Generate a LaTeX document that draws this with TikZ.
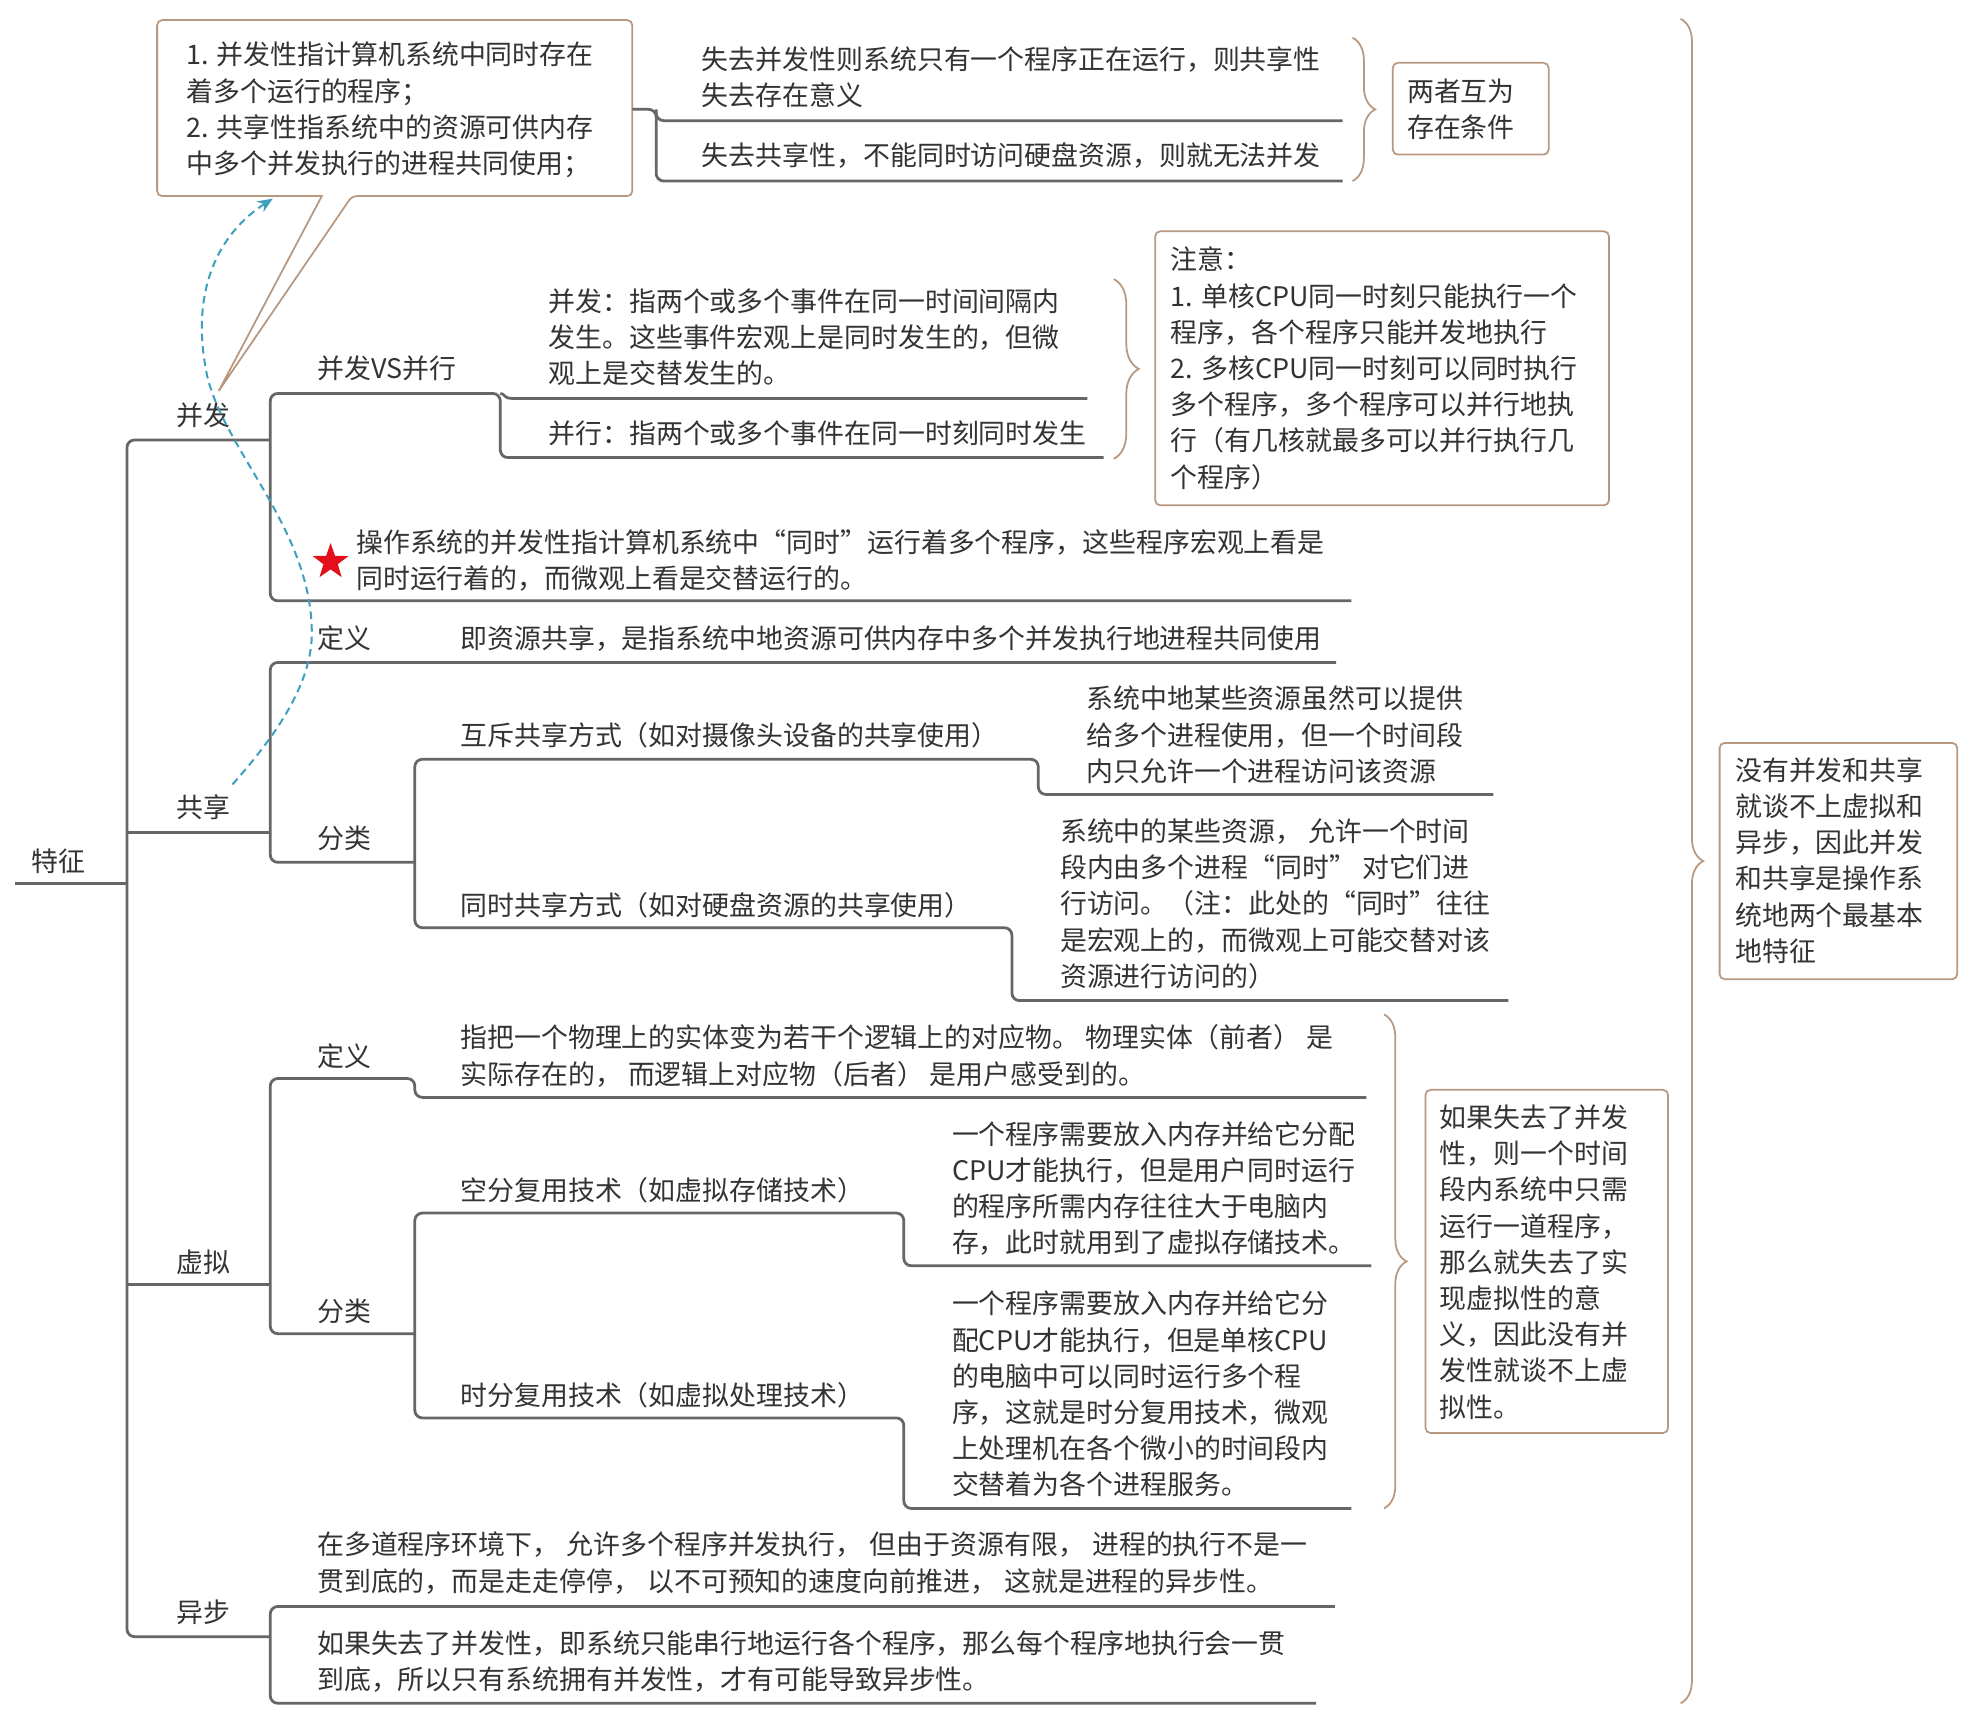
\documentclass[tikz,border=0pt]{standalone}
\usepackage{fontspec}
\setmainfont{Noto Sans CJK SC}
\usetikzlibrary{decorations.pathreplacing,shapes.geometric,arrows.meta}
\definecolor{txt}{HTML}{333333}
\definecolor{linegray}{HTML}{666666}
\definecolor{tanline}{RGB}{185,152,128}
\definecolor{dashteal}{HTML}{3E9FBE}
\definecolor{starred}{HTML}{E3101C}
\newcommand\gapsp{\hspace{0.27em}}
\begin{document}
\begin{tikzpicture}[x=0.5pt,y=-0.5pt,
  conn/.style={draw=linegray, line width=1.1pt, rounded corners=3pt},
  lbl/.style={inner sep=0pt, anchor=west, align=left, text=txt, font=\fontsize{10.7pt}{14.4pt}\selectfont},
  tanbox/.style={draw=tanline, line width=0.7pt, rounded corners=2pt, fill=white},
  brc/.style={draw=tanline, line width=0.7pt, decorate, decoration={brace, amplitude=#1}}]
\fill[white] (0,0) rectangle (1568,1370);
\useasboundingbox (0,0) rectangle (1568,1370);

% ---------- boxes ----------
\draw[tanbox] (256,156) -- (125,156) -- (125,16) -- (503,16) -- (503,156) -- (280,156) [sharp corners] -- (174,311) -- cycle;
\draw[tanbox] (1108,50) rectangle (1232,123);
\draw[tanbox] (919,184) rectangle (1280,402);
\draw[tanbox] (1134,867) rectangle (1327,1140);
\draw[tanbox] (1368,591) rectangle (1557,779);

% ---------- coordinates ----------
\coordinate (rootL) at (12,703);
\coordinate (trunkR) at (101,703);

% ---------- connectors ----------
\draw[conn] (rootL) -- (trunkR);
\draw[conn] (215,350) -- (101,350) -- (101,1302) -- (215,1302);
\draw[conn] (101,662) -- (215,662);
\draw[conn] (101,1022) -- (215,1022);

% bingfa
\draw[conn] (1075,478) -- (215,478) -- (215,313) -- (398,313) -- (398,364) -- (878,364);
\draw[conn, rounded corners=0pt] (398,313) .. controls (402,313) and (400,317) .. (408,317) -- (865,317);

% callout children
\draw[conn] (503,87) -- (522,87) -- (522,144) -- (1068,144);
\draw[conn] (522,87) -- (522,96) -- (1068,96);

% gongxiang
\draw[conn] (1063,527) -- (215,527) -- (215,686) -- (330,686);
\draw[conn] (1188,632) -- (826,632) -- (826,604) -- (330,604) -- (330,738) -- (805,738) -- (805,796) -- (1200,796);

% xuni
\draw[conn] (1087,873) -- (330,873) -- (330,858) -- (215,858) -- (215,1061) -- (330,1061);
\draw[conn] (1091,1007) -- (719,1007) -- (719,965) -- (330,965) -- (330,1128) -- (719,1128) -- (719,1200) -- (1075,1200);

% yibu
\draw[conn] (1062,1278) -- (215,1278) -- (215,1355) -- (1047,1355);

% ---------- braces ----------
\draw[brc=9pt] (1076,30) -- (1076,144);
\draw[brc=10pt] (886,222) -- (886,365);
\draw[brc=9pt] (1101,807) -- (1101,1200);
\draw[brc=9pt] (1337,15) -- (1337,1355);

% ---------- texts ----------
\node[lbl] (tz) at (25,685) {特征};
\node[lbl] (bf) at (140,330) {并发};
\node[lbl] (gx) at (140,642) {共享};
\node[lbl] (xn) at (140,1004) {虚拟};
\node[lbl] (yb) at (140,1283) {异步};

\node[lbl] (callt) at (148,87.5) {1. 并发性指计算机系统中同时存在\\着多个运行的程序；\\2. 共享性指系统中的资源可供内存\\中多个并发执行的进程共同使用；};
\node[lbl] (c1) at (558,61.5) {失去并发性则系统只有一个程序正在运行，则共享性\\失去存在意义};
\node[lbl] (c2) at (558,124) {失去共享性，不能同时访问硬盘资源，则就无法并发};
\node[lbl] (mutual) at (1119,87) {两者互为\\存在条件};

\node[lbl] (vs) at (252,293) {并发VS并行};
\node[lbl] (bfdef) at (436,268.5) {并发：指两个或多个事件在同一时间间隔内\\发生。这些事件宏观上是同时发生的，但微\\观上是交替发生的。};
\node[lbl] (bxdef) at (436,345) {并行：指两个或多个事件在同一时刻同时发生};
\node[lbl] (note) at (931,293) {注意：\\1. 单核CPU同一时刻只能执行一个\\程序，各个程序只能并发地执行\\2. 多核CPU同一时刻可以同时执行\\多个程序，多个程序可以并行地执\\行（有几核就最多可以并行执行几\\个程序）};
\node[star, star points=5, star point ratio=2.5, fill=starred, inner sep=0pt, minimum size=15pt] (star) at (263,447) {};
\node[lbl] (startext) at (283,446) {操作系统的并发性指计算机系统中“同时”运行着多个程序，这些程序宏观上看是\\同时运行着的，而微观上看是交替运行的。};

\node[lbl] (gxdy) at (252,508) {定义};
\node[lbl] (gxdef) at (366,508) {即资源共享，是指系统中地资源可供内存中多个并发执行地进程共同使用};
\node[lbl] (gxfl) at (252,667) {分类};
\node[lbl] (hc) at (366,585) {互斥共享方式（如对摄像头设备的共享使用）};
\node[lbl] (hcd) at (864,584.5) {系统中地某些资源虽然可以提供\\给多个进程使用，但一个时间段\\内只允许一个进程访问该资源};
\node[lbl] (ts) at (366,720) {同时共享方式（如对硬盘资源的共享使用）};
\node[lbl] (tsd) at (843,719) {系统中的某些资源， 允许一个时间\\段内由多个进程“同时” 对它们进\\行访问。（注：此处的“同时”往往\\是宏观上的，而微观上可能交替对该\\资源进行访问的）};

\node[lbl] (xndy) at (252,840) {定义};
\node[lbl] (xndef) at (366,840) {指把一个物理上的实体变为若干个逻辑上的对应物。 物理实体（前者） 是\\实际存在的， 而逻辑上对应物（后者） 是用户感受到的。};
\node[lbl] (xnfl) at (252,1043) {分类};
\node[lbl] (kf) at (366,947) {空分复用技术（如虚拟存储技术）};
\node[lbl] (kfd) at (757,945.5) {一个程序需要放入内存并给它分配\\CPU才能执行，但是用户同时运行\\的程序所需内存往往大于电脑内\\存，此时就用到了虚拟存储技术。};
\node[lbl] (sf) at (366,1110) {时分复用技术（如虚拟处理技术）};
\node[lbl] (sfd) at (757,1109) {一个程序需要放入内存并给它分\\配CPU才能执行，但是单核CPU\\的电脑中可以同时运行多个程\\序，这就是时分复用技术，微观\\上处理机在各个微小的时间段内\\交替着为各个进程服务。};
\node[lbl] (xnnote) at (1145,1004) {如果失去了并发\\性，则一个时间\\段内系统中只需\\运行一道程序，\\那么就失去了实\\现虚拟性的意\\义，因此没有并\\发性就谈不上虚\\拟性。};
\node[lbl] (allnote) at (1380,684.5) {没有并发和共享\\就谈不上虚拟和\\异步，因此并发\\和共享是操作系\\统地两个最基本\\地特征};

\node[lbl] (yb1) at (252,1243.5) {在多道程序环境下，\gapsp 允许多个程序并发执行，\gapsp 但由于资源有限，\gapsp 进程的执行不是一\\贯到底的，而是走走停停，\gapsp 以不可预知的速度向前推进，\gapsp 这就是进程的异步性。};
\node[lbl] (yb2) at (252,1321.5) {如果失去了并发性，即系统只能串行地运行各个程序，那么每个程序地执行会一贯\\到底，所以只有系统拥有并发性，才有可能导致异步性。};

% ---------- dashed relation ----------
\coordinate (relS) at (185,624);
\coordinate (relE) at (217,158);
\draw[dashteal, line width=0.8pt, dash pattern=on 3pt off 2pt, -{Stealth[length=6pt,width=5pt]}]
  (relS) .. controls (215,590) and (250,545) .. (248,500)
  .. controls (246,420) and (180,360) .. (165,300)
  .. controls (150,230) and (175,185) .. (relE);
\end{tikzpicture}
\end{document}
